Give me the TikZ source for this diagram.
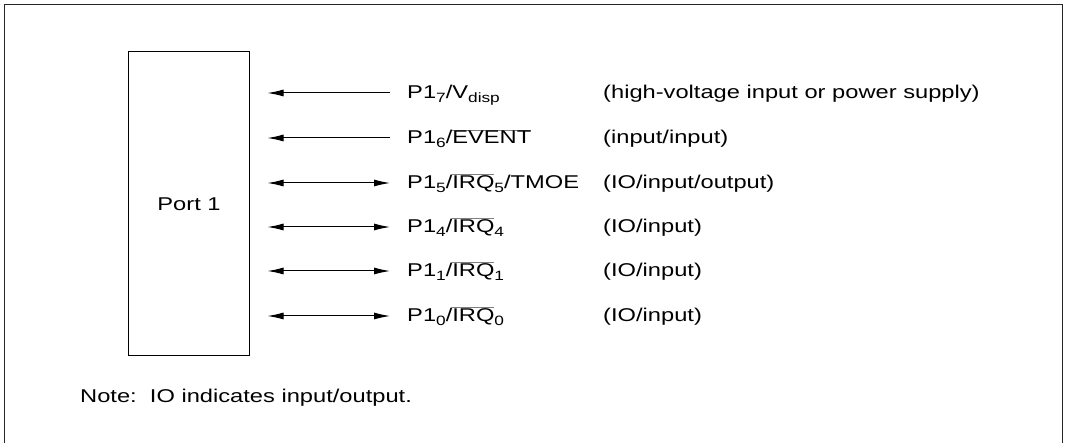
\documentclass[tikz,border=0pt]{standalone}
\usepackage{fontspec}
\setmainfont{Liberation Sans}
\usetikzlibrary{positioning,arrows.meta}
\newsavebox{\stretchbox}
\newcommand{\idx}[1]{\raisebox{-3.5pt}{\fontsize{13.5}{14}\selectfont #1}}
\newcommand{\negsig}[1]{$\textcolor{gray}{\overline{\hbox{\color{black}#1}}}$}

\begin{document}
\begin{tikzpicture}[x=1pt,y=1pt,>={Latex[length=16pt,width=7pt]},
    font=\fontsize{18.5}{20}\selectfont,
    stretched/.style={execute at begin node={\setbox\stretchbox=\hbox\bgroup},
        execute at end node={\egroup\scalebox{1.28}[1]{\usebox\stretchbox}}},
    pinlabel/.style={stretched,inner sep=0pt,anchor=west,text height=17pt,text depth=5pt},
    sigline/.style={line width=1pt,shorten <=17.5pt,shorten >=17pt}]
        \useasboundingbox (0,0) rectangle (1067,443);
        \draw[line width=1.4pt,black!85] (4.5,0) -- (4.5,438.5) -- (1062.5,438.5) -- (1062.5,0);
        \node[draw,line width=1pt,stretched,minimum width=121pt,minimum height=304pt] (port) at (189,239) {Port 1};
        % pin names
        \node[pinlabel] (p17) at (407,350) {P1\idx{7}/V\idx{disp}};
        \node[pinlabel] (p16) at (407,305) {P1\idx{6}/\negsig{EVENT}};
        \node[pinlabel] (p15) at (407,260) {P1\idx{5}/\negsig{IRQ}\idx{5}/TMOE};
        \node[pinlabel] (p14) at (407,216) {P1\idx{4}/\negsig{IRQ}\idx{4}};
        \node[pinlabel] (p11) at (407,172) {P1\idx{1}/\negsig{IRQ}\idx{1}};
        \node[pinlabel] (p10) at (407,127) {P1\idx{0}/\negsig{IRQ}\idx{0}};
        % functions
        \node[pinlabel,right=196pt of p17.west] (d17) {(high-voltage input or power supply)};
        \node[pinlabel,right=196pt of p16.west] (d16) {(input/input)};
        \node[pinlabel,right=196pt of p15.west] (d15) {(IO/input/output)};
        \node[pinlabel,right=196pt of p14.west] (d14) {(IO/input)};
        \node[pinlabel,right=196pt of p11.west] (d11) {(IO/input)};
        \node[pinlabel,right=196pt of p10.west] (d10) {(IO/input)};
        \draw[sigline,<-] (port.east |- p17.west) -- (p17.west);
        \draw[sigline,<-] (port.east |- p16.west) -- (p16.west);
        \draw[sigline,<->] (port.east |- p15.west) -- (p15.west);
        \draw[sigline,<->] (port.east |- p14.west) -- (p14.west);
        \draw[sigline,<->] (port.east |- p11.west) -- (p11.west);
        \draw[sigline,<->] (port.east |- p10.west) -- (p10.west);
        \node[stretched,anchor=west,inner sep=0pt] (note) at (80,45) {Note:\ \ IO indicates input/output.};
    \end{tikzpicture}
\end{document}
